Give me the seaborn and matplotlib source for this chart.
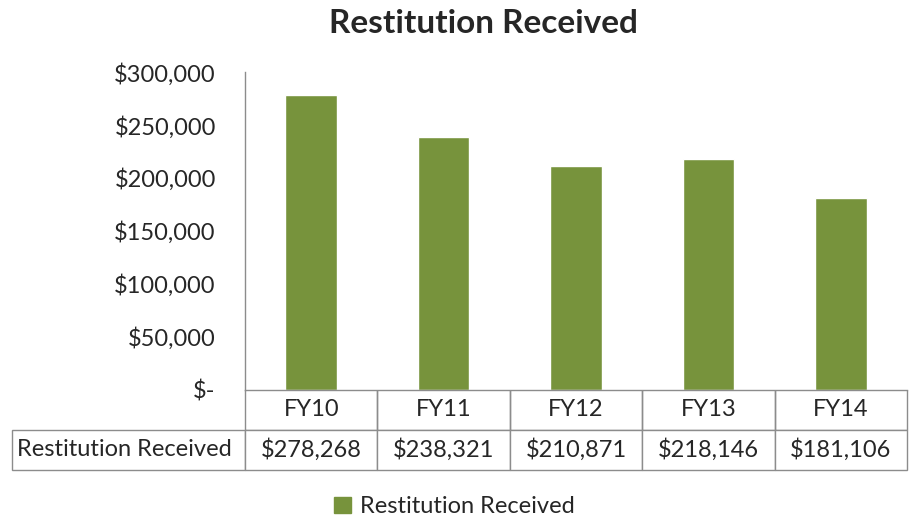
import pandas as pd
import seaborn as sns
import matplotlib.pyplot as plt
from matplotlib.ticker import FuncFormatter

# data
years = ['FY10', 'FY11', 'FY12', 'FY13', 'FY14']
restitution = [278268, 238321, 210871, 218146, 181106]
series_name = 'Restitution Received'

df = pd.DataFrame({'Year': years, 'Amount': restitution})

sns.set_style('white')
plt.rcParams['font.family'] = ['Lato', 'DejaVu Sans']

green = '#77933C'
grey = '#8c8c8c'

fig = plt.figure(figsize=(9.09, 5.22), dpi=100)
ax = fig.add_axes([0.2695, 0.253, 0.7285, 0.609])

sns.barplot(data=df, x='Year', y='Amount', color=green, width=0.39,
            saturation=1, ax=ax)

ax.set_ylim(0, 300000)
ax.set_yticks(range(0, 300001, 50000))
ax.yaxis.set_major_formatter(FuncFormatter(
    lambda v, p: '$-' if v == 0 else f'${v:,.0f}'))
ax.tick_params(axis='y', length=6, width=1, color=grey, labelsize=17, pad=15)
ax.tick_params(axis='x', bottom=False, labelbottom=False)
ax.set_xlabel('')
ax.set_ylabel('')
for s in ['top', 'right']:
    ax.spines[s].set_visible(False)
for s in ['left', 'bottom']:
    ax.spines[s].set_color(grey)
    ax.spines[s].set_linewidth(1)
ax.set_xlim(-0.5, len(years) - 0.5)

fig.text(483 / 909, 1 - 24 / 522, 'Restitution Received', fontsize=24,
         fontweight='bold', ha='center', va='center')

# data table under the axis
cells = [[''] + years,
         [series_name] + [f'${v:,.0f}' for v in restitution]]
lab_w = 0.352
col_w = 1.0 / len(years)
tbl = ax.table(cellText=cells, cellLoc='center',
               colWidths=[lab_w] + [col_w] * len(years),
               bbox=[-lab_w, -0.2516, 1 + lab_w, 0.2516])
tbl.auto_set_font_size(False)
tbl.set_fontsize(17)
for (r, c), cell in tbl.get_celld().items():
    cell.set_edgecolor(grey)
    cell.set_linewidth(1)
    if r == 0 and c == 0:
        cell.visible_edges = 'open'
    elif r == 0:
        cell.visible_edges = 'LRB'
tbl[1, 0].get_text().set_ha('left')
tbl[1, 0].PAD = 0.02

fig.legend(handles=[plt.Rectangle((0, 0), 1, 1, color=green)],
           labels=[series_name], loc='lower center',
           bbox_to_anchor=(0.5, -0.032), frameon=False, fontsize=17,
           handlelength=0.7, handleheight=0.7, handletextpad=0.4)

fig.savefig('out.png', dpi=100)
